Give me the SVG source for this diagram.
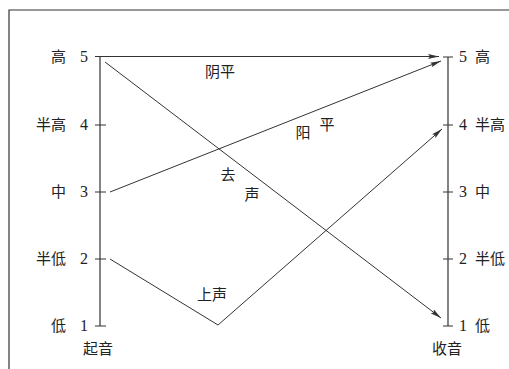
<svg xmlns="http://www.w3.org/2000/svg" width="509" height="369" viewBox="0 0 509 369">
<defs>
<marker id="ah" markerWidth="12" markerHeight="6" refX="11" refY="3" orient="auto" markerUnits="userSpaceOnUse">
<path d="M0,0.5 L11,3 L0,5.5 L2,3 Z" fill="#333"/>
</marker>
</defs>
<style>
.ax{stroke:#333;stroke-width:1.2;fill:none}
.ln{stroke:#333;stroke-width:1;fill:none}
.cj{font-family:"Noto Sans CJK SC","Noto Sans",sans-serif;font-size:15px;fill:#222}
.nm{font-family:"Liberation Serif",serif;font-size:16px;fill:#222}
</style>
<rect width="509" height="369" fill="#fff"/>
<path d="M9,369 V10 H509" class="ax"/>
<g id="left-axis">
<path d="M100,57 V326 M95,125 H106 M95,192 H106 M95,259 H106 M95,326 H106" class="ax"/>
<text x="66" y="62" class="cj" text-anchor="end">高</text>
<text x="66" y="130" class="cj" text-anchor="end">半高</text>
<text x="66" y="197" class="cj" text-anchor="end">中</text>
<text x="66" y="264" class="cj" text-anchor="end">半低</text>
<text x="66" y="331" class="cj" text-anchor="end">低</text>
<text x="88" y="62" class="nm" text-anchor="end">5</text>
<text x="88" y="130" class="nm" text-anchor="end">4</text>
<text x="88" y="197" class="nm" text-anchor="end">3</text>
<text x="88" y="264" class="nm" text-anchor="end">2</text>
<text x="88" y="331" class="nm" text-anchor="end">1</text>
<text x="83" y="354" class="cj">起音</text>
</g>
<g id="right-axis">
<path d="M448,57 V326 M443,57 H453 M443,125 H453 M443,192 H453 M443,259 H453 M443,326 H453" class="ax"/>
<text x="459" y="62" class="nm">5</text>
<text x="459" y="130" class="nm">4</text>
<text x="459" y="197" class="nm">3</text>
<text x="459" y="264" class="nm">2</text>
<text x="459" y="331" class="nm">1</text>
<text x="475" y="62" class="cj">高</text>
<text x="475" y="130" class="cj">半高</text>
<text x="475" y="197" class="cj">中</text>
<text x="475" y="264" class="cj">半低</text>
<text x="475" y="331" class="cj">低</text>
<text x="432" y="354" class="cj">收音</text>
</g>
<g id="connectors">
<path d="M95,56.5 H439" class="ln" marker-end="url(#ah)"/>
<path d="M110,192 L441,61" class="ln" marker-end="url(#ah)"/>
<path d="M105,62 L441,318" class="ln" marker-end="url(#ah)"/>
<path d="M110,259 L218,325 L442,129" class="ln" marker-end="url(#ah)"/>
</g>
<g id="labels">
<text x="220" y="77" class="cj" text-anchor="middle">阴平</text>
<text x="303" y="138" class="cj" text-anchor="middle">阳</text>
<text x="327" y="130" class="cj" text-anchor="middle">平</text>
<text x="228" y="180" class="cj" text-anchor="middle">去</text>
<text x="252" y="200" class="cj" text-anchor="middle">声</text>
<text x="212" y="300" class="cj" text-anchor="middle">上声</text>
</g>
</svg>
